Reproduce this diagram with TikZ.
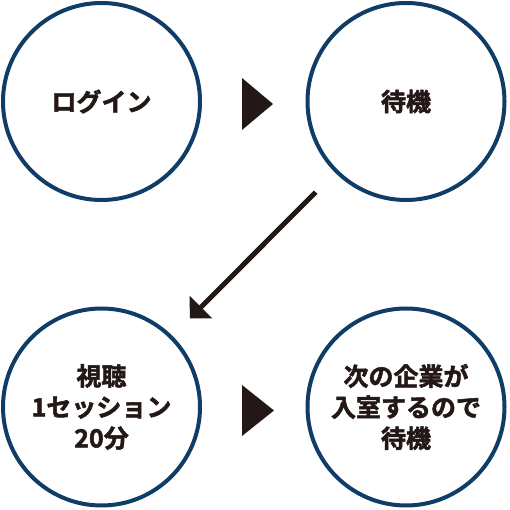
\documentclass[tikz,border=0pt]{standalone}
\usepackage{fontspec}
\newfontfamily\jpfont{Noto Sans CJK JP Bold}[FakeBold=2]
\usetikzlibrary{arrows.meta}
\definecolor{ringblue}{HTML}{0F3D66}
\definecolor{inkblack}{HTML}{231815}

\begin{document}
\begin{tikzpicture}[every node/.style={inner sep=0pt, text=inkblack, font=\jpfont\fontsize{25pt}{31pt}\selectfont},
    stepcircle/.style={circle, draw=ringblue, line width=4pt, minimum size=197pt, align=center},
    marker/.style={fill=inkblack}]
    \useasboundingbox (0,0) rectangle (510pt,510pt);

    \node (login) [stepcircle] at (101.5pt,408.5pt) {ログイン};
    \node (wait) [stepcircle] at (406pt,408.5pt) {待機};
    \node (view) [stepcircle] at (101.5pt,103pt) {視聴\\1セッション\\20分};
    \node (next) [stepcircle] at (406pt,103pt) {次の企業が\\入室するので\\待機};

    % triangles between the circles
    \coordinate (gap1) at (242pt,406pt);
    \coordinate (gap2) at (242pt,99.5pt);
    \fill[marker] (gap1) ++(0,26pt) -- ++(31pt,-26pt) -- ++(-31pt,-26pt) -- cycle;
    \fill[marker] (gap2) ++(0,25.5pt) -- ++(32pt,-25.5pt) -- ++(-32pt,-25.5pt) -- cycle;

    \draw[-{Triangle[length=16pt, width=31pt]}, line width=5pt, draw=inkblack, fill=inkblack,
        shorten <=27.5pt, shorten >=24.5pt] (wait) -- (view);
\end{tikzpicture}
\end{document}
